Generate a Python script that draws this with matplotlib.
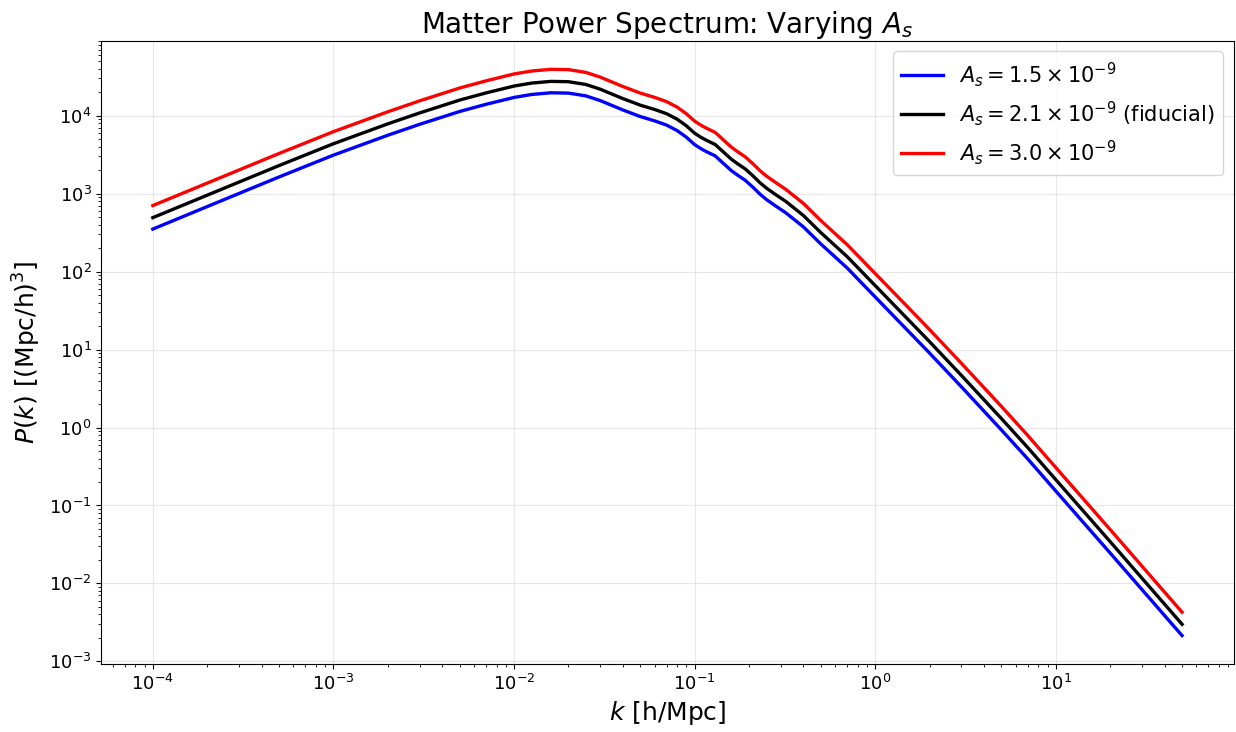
import matplotlib
matplotlib.use("Agg")
import matplotlib.pyplot as plt

# wavenumbers [h/Mpc] and P(k) [(Mpc/h)^3]
k = [1e-4, 2e-4, 5e-4, 1e-3, 2e-3, 3e-3, 5e-3, 7e-3, 1e-2, 1.25e-2,
     1.6e-2, 2e-2, 2.5e-2, 3e-2, 4e-2, 5e-2, 6e-2, 7e-2, 8e-2, 9e-2,
     0.1, 0.108, 0.115, 0.13, 0.145, 0.16, 0.175, 0.19, 0.21, 0.23,
     0.25, 0.28, 0.32, 0.4, 0.5, 0.7, 1.0, 1.5, 2.0, 3.0,
     5.0, 7.0, 10.0, 20.0, 50.0]

pk_low = [351, 682, 1636, 3118, 5609, 7742, 11321, 13991, 17134, 18701,
          19673, 19493, 17942, 15627, 11854, 9747, 8588, 7566, 6440, 5295,
          4255, 3792, 3499, 3047, 2420, 1967, 1694, 1492, 1213, 986,
          839, 698, 567, 375, 226, 111, 47.2, 17.9, 9.0, 3.33,
          0.929, 0.394, 0.153, 0.0245, 0.00214]

pk_fid = [492, 955, 2291, 4365, 7852, 10839, 15849, 19588, 23988, 26182,
          27542, 27290, 25119, 21878, 16596, 13646, 12023, 10593, 9016, 7413,
          5957, 5309, 4898, 4266, 3388, 2754, 2371, 2089, 1698, 1380,
          1175, 977, 794, 525, 316, 155, 66.1, 25.1, 12.6, 4.66,
          1.30, 0.551, 0.214, 0.0343, 0.00299]

pk_high = [703, 1364, 3273, 6236, 11217, 15484, 22641, 27983, 34269, 37403,
           39346, 38986, 35884, 31254, 23709, 19494, 17176, 15133, 12880, 10590,
           8510, 7584, 6997, 6094, 4840, 3934, 3387, 2984, 2426, 1971,
           1679, 1396, 1134, 750, 451, 221, 94.4, 35.9, 18.0, 6.66,
           1.86, 0.787, 0.306, 0.0490, 0.00427]

labels = [r"$A_s = 1.5 \times 10^{-9}$",
          r"$A_s = 2.1 \times 10^{-9}$ (fiducial)",
          r"$A_s = 3.0 \times 10^{-9}$"]
colors = ["blue", "black", "red"]

fig = plt.figure(figsize=(12.36, 7.32), dpi=100)
ax = fig.add_axes([0.082, 0.093, 0.916, 0.851])

for pk, lab, c in zip([pk_low, pk_fid, pk_high], labels, colors):
    ax.loglog(k, pk, color=c, lw=2.4, label=lab)

ax.set_xlabel(r"$k$ [h/Mpc]", fontsize=18)
ax.set_ylabel(r"$P(k)$ [(Mpc/h)$^3$]", fontsize=18)
ax.set_title(r"Matter Power Spectrum: Varying $A_s$", fontsize=20)
ax.tick_params(labelsize=13)
ax.grid(True, which="major", alpha=0.3)
ax.legend(loc="upper right", fontsize=15)

fig.savefig("out.png", dpi=100)
